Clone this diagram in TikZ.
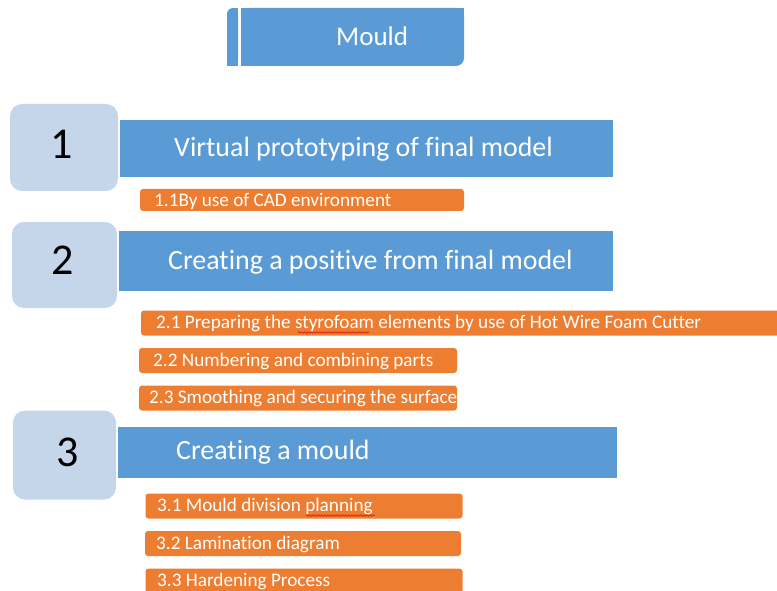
\documentclass[tikz,border=0pt]{standalone}
\usepackage{fontspec}
\setmainfont{Carlito}[Ligatures=NoCommon]
\usetikzlibrary{decorations.pathmorphing}
\definecolor{stepblue}{HTML}{5B9BD5}
\definecolor{numblue}{HTML}{C5D5EA}
\definecolor{taskorange}{HTML}{ED7D31}
\definecolor{spellred}{HTML}{E0201B}
\tikzset{
  numbox/.style={draw=none, fill=numblue, rounded corners=12pt, inner sep=0pt},
  numtext/.style={inner sep=0pt, text=black, font=\fontsize{44}{48}\selectfont},
  stepbar/.style={draw=none, fill=stepblue, inner sep=0pt},
  steptext/.style={anchor=west, inner sep=0pt, text=white, font=\fontsize{27.9}{30}\selectfont},
  taskbar/.style={draw=none, fill=taskorange, rounded corners=3pt, inner sep=0pt},
  tasktext/.style={anchor=west, inner sep=0pt, text=white, font=\fontsize{19.2}{21}\selectfont},
  spell/.style={draw=spellred, line width=0.7pt,
    decorate, decoration={snake, amplitude=0.8pt, segment length=3pt}}
}
\begin{document}
\begin{tikzpicture}[x=1pt, y=-1pt]
\useasboundingbox (0,0) rectangle (777,591);
\clip (0,0) rectangle (777,591);

% title tab: narrow strip with a rounded top-left corner
\fill[stepblue, rounded corners=6pt] (227,8) rectangle (238,66);
\fill[stepblue] (227,30) rectangle (238,66);
\fill[stepblue] (233,8) rectangle (238,66);
% title body with a rounded bottom-right corner
\fill[stepblue, rounded corners=8pt] (241,8) rectangle (464,66);
\fill[stepblue] (241,8) rectangle (464,40);
\fill[stepblue] (241,8) rectangle (420,66);
\node[anchor=west, inner sep=0pt, text=white, font=\fontsize{27}{30}\selectfont]
  (mould) at (336,36.5) {Mould};

% step 1
\node[numbox, minimum width=108pt, minimum height=87pt] (n1) at (64,147.5) {};
\node[numtext] (n1t) at (61.5,144.5) {1};
\node[stepbar, minimum width=493pt, minimum height=57pt] (s1) at (366.5,148.5) {};
\node[steptext] (s1t) at (174,149) {Virtual prototyping of final model};
\node[taskbar, minimum width=324pt, minimum height=22pt] (t11) at (302,200) {};
\node[tasktext] (t11t) at (154,201) {1.1By use of CAD environment};

% step 2
\node[numbox, minimum width=105pt, minimum height=86pt] (n2) at (64.5,265) {};
\node[numtext] (n2t) at (63,260.5) {2};
\node[stepbar, minimum width=494pt, minimum height=60pt] (s2) at (366,261) {};
\node[steptext] (s2t) at (168,262) {Creating a positive from final model};
\node[taskbar, minimum width=660pt, minimum height=25pt] (t21) at (471,323) {};
\node[tasktext] (t21t) at (156,323) {2.1 Preparing the styrofoam elements by use of Hot Wire Foam Cutter};
\node[taskbar, minimum width=318pt, minimum height=25pt] (t22) at (298,360.5) {};
\node[tasktext] (t22t) at (153,361) {2.2 Numbering and combining parts};
\node[taskbar, minimum width=318pt, minimum height=25pt] (t23) at (298,398) {};
\node[tasktext] (t23t) at (149,398) {2.3 Smoothing and securing the surface};

% step 3
\node[numbox, minimum width=103pt, minimum height=89pt] (n3) at (64.5,455) {};
\node[numtext] (n3t) at (68,452.5) {3};
\node[stepbar, minimum width=499pt, minimum height=51pt] (s3) at (367.5,452.5) {};
\node[steptext] (s3t) at (176,452) {Creating a mould};
\node[taskbar, minimum width=317pt, minimum height=25pt] (t31) at (304,506) {};
\node[tasktext] (t31t) at (157,506.5) {3.1 Mould division planning};
\node[taskbar, minimum width=316pt, minimum height=25pt] (t32) at (303,543.5) {};
\node[tasktext] (t32t) at (156,544) {3.2 Lamination diagram};
\node[taskbar, minimum width=317pt, minimum height=25pt] (t33) at (304,581) {};
\node[tasktext] (t33t) at (157,581) {3.3 Hardening Process};

% spell-check marks under two words
\coordinate (sq1a) at (298,332.5);
\coordinate (sq1b) at (369,332.5);
\draw[spell] (sq1a) -- (sq1b);
\coordinate (sq2a) at (306,515.5);
\coordinate (sq2b) at (375,515.5);
\draw[spell] (sq2a) -- (sq2b);
\end{tikzpicture}
\end{document}
